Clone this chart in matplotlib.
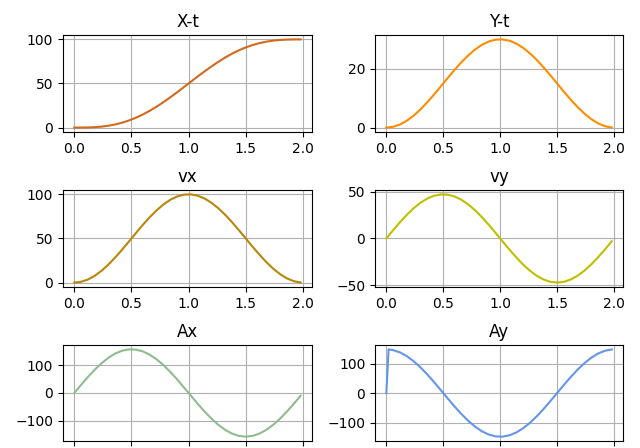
import numpy as np
import matplotlib
matplotlib.use('Agg')
import matplotlib.pyplot as plt

# tempo (s)
t = [0.00, 0.06, 0.12, 0.18, 0.24, 0.30, 0.36, 0.42, 0.48, 0.54, 0.60, 0.66,
     0.72, 0.78, 0.84, 0.90, 0.96, 1.02, 1.08, 1.14, 1.20, 1.26, 1.32, 1.38,
     1.44, 1.50, 1.56, 1.62, 1.68, 1.74, 1.80, 1.86, 1.92, 1.98]

x_pos = [0.00, 0.02, 0.14, 0.47, 1.11, 2.12, 3.60, 5.58, 8.12, 11.21, 14.86, 19.05,
         23.74, 28.86, 34.33, 40.08, 46.01, 52.00, 57.96, 63.78, 69.35, 74.60, 79.44, 83.80,
         87.63, 90.92, 93.63, 95.80, 97.44, 98.60, 99.36, 99.78, 99.96, 100.00]

y_pos = [0.00, 0.27, 1.05, 2.34, 4.07, 6.18, 8.61, 11.27, 14.06, 16.88, 19.64, 22.23,
         24.56, 26.56, 28.14, 29.27, 29.88, 29.97, 29.53, 28.57, 27.14, 25.27, 23.04, 20.52,
         17.81, 15.00, 12.19, 9.48, 6.96, 4.73, 2.87, 1.43, 0.47, 0.03]

vx = [0.00, 0.89, 3.51, 7.79, 13.55, 20.61, 28.71, 37.57, 46.86, 56.27, 65.45, 74.09,
      81.87, 88.53, 93.82, 97.56, 99.61, 99.90, 98.43, 95.24, 90.45, 84.23, 76.79, 68.41,
      59.37, 50.00, 40.63, 31.60, 23.21, 15.78, 9.55, 4.76, 1.57, 0.10]

vy = [0.00, 8.83, 17.35, 25.25, 32.25, 38.12, 42.63, 45.64, 47.03, 46.75, 44.82, 41.29,
      36.31, 30.03, 22.70, 14.56, 5.90, -2.96, -11.72, -20.06, -27.70, -34.35, -39.78, -43.81,
      -46.29, -47.12, -46.29, -43.81, -39.78, -34.35, -27.70, -20.06, -11.72, -2.96]

ax_acc = [0.00, 29.44, 57.82, 84.16, 107.52, 127.08, 142.13, 152.15, 156.77, 155.84, 149.40, 137.65,
          121.03, 100.12, 75.68, 48.54, 19.68, -9.86, -39.07, -66.88, -92.33, -114.51, -132.62, -146.05,
          -154.30, -157.08, -154.30, -146.05, -132.62, -114.51, -92.33, -66.88, -39.07, -9.86]

# Ay tem um ponto extra no inicio (salto de 0 para ~148)
t_ay = [0.00, 0.02] + t[1:]
ay_acc = [0.00, 148.00, 145.42, 137.65, 124.99, 107.92, 87.02, 63.04, 36.82, 9.30, -18.55, -45.74, -71.33,
          -94.36, -114.06, -129.73, -140.80, -146.87, -147.74, -143.39, -133.95, -119.77, -101.33, -79.32, -54.50,
          -27.74, 0.00, 27.74, 54.50, 79.32, 101.33, 119.77, 133.95, 143.39, 147.74]

fig = plt.figure(figsize=(6.4, 4.48), dpi=100)

left_col, right_col = 0.0984, 0.586
w_left, w_right = 0.389, 0.3875
rows = [(0.7054, 0.2165), (0.3594, 0.2165), (0.0156, 0.2143)]

paineis = [
    ('X-t', t, x_pos, 'chocolate', 0, left_col, w_left),
    ('Y-t', t, y_pos, 'darkorange', 0, right_col, w_right),
    ('vx', t, vx, 'darkgoldenrod', 1, left_col, w_left),
    ('vy', t, vy, 'y', 1, right_col, w_right),
    ('Ax', t, ax_acc, 'darkseagreen', 2, left_col, w_left),
    ('Ay', t_ay, ay_acc, 'cornflowerblue', 2, right_col, w_right),
]

for titulo, tt, vals, cor, r, x0, w in paineis:
    bottom, h = rows[r]
    ax = fig.add_axes([x0, bottom, w, h])
    ax.plot(tt, vals, color=cor)
    ax.set_title(titulo)
    ax.grid(True)
    ax.set_xticks([0.0, 0.5, 1.0, 1.5, 2.0])
    if r == 2:
        # os rotulos da ultima linha ficam fora da imagem
        ax.tick_params(axis='x', labelbottom=False)

fig.savefig('out.png', dpi=100)
